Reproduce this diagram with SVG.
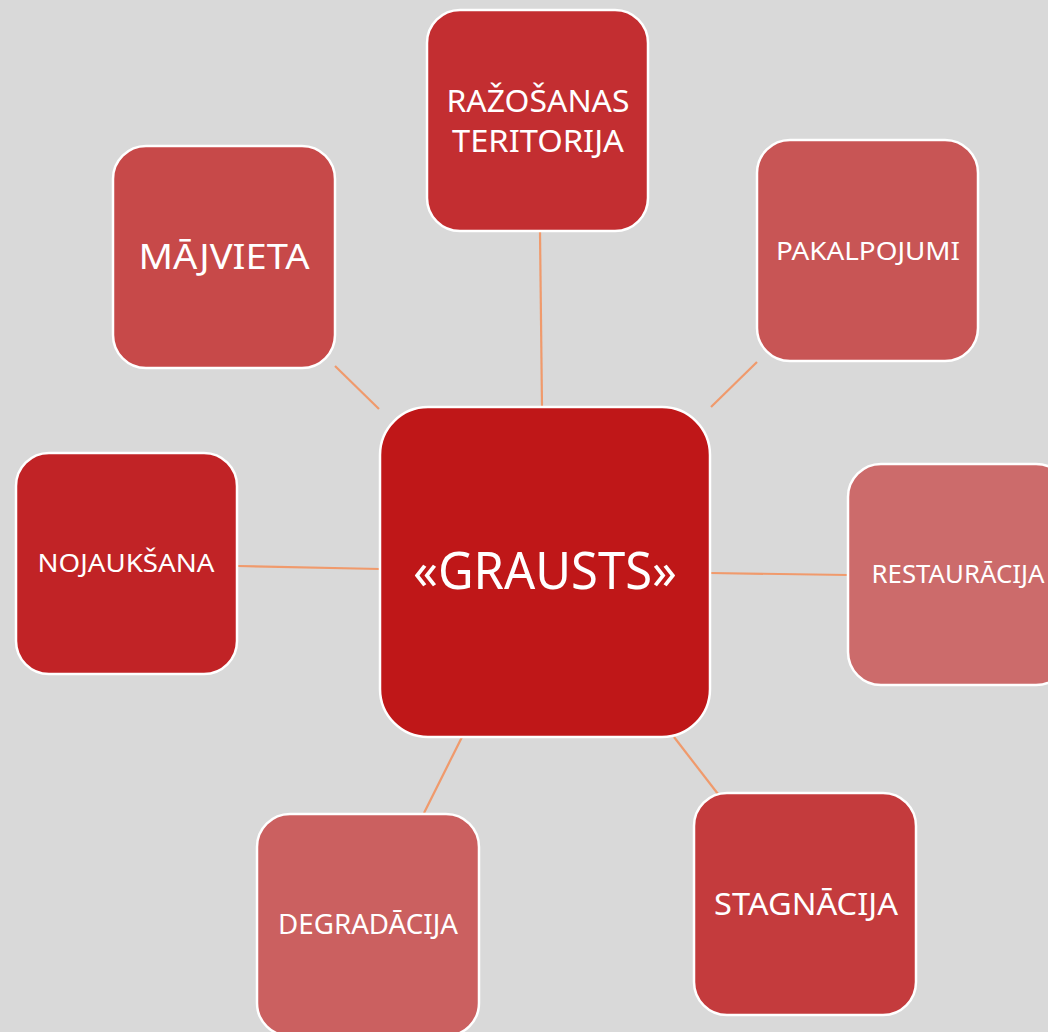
<svg xmlns="http://www.w3.org/2000/svg" width="1048" height="1032" viewBox="0 0 1048 1032">
<style>
.box{stroke:#ffffff;stroke-width:2.5}
.t{fill:#ffffff;font-family:"Noto Sans","Open Sans","DejaVu Sans",sans-serif;text-anchor:middle}
.c{stroke:#f09a6c;stroke-width:2.2;fill:none}
</style>
<rect width="1048" height="1032" fill="#d9d9d9"/>
<g id="connectors">
<line class="c" x1="540" y1="232" x2="542" y2="406"/>
<line class="c" x1="335" y1="366" x2="379" y2="409"/>
<line class="c" x1="757" y1="362" x2="711" y2="407"/>
<line class="c" x1="238" y1="566" x2="380" y2="569"/>
<line class="c" x1="710" y1="573" x2="848" y2="575"/>
<line class="c" x1="674" y1="737" x2="718" y2="794"/>
<line class="c" x1="462" y1="737" x2="424" y2="813"/>
</g>
<g id="center">
<rect class="box" x="380" y="407" width="330" height="330" rx="48" fill="#bf1718"/>
<text class="t" x="545" y="589" font-size="51" textLength="264" lengthAdjust="spacingAndGlyphs">«GRAUSTS»</text>
</g>
<g id="razosanas">
<rect class="box" x="427" y="10" width="221" height="221" rx="33" fill="#c32e31"/>
<text class="t" x="538" y="112" font-size="31" textLength="183" lengthAdjust="spacingAndGlyphs">RAŽOŠANAS</text>
<text class="t" x="538" y="152" font-size="31" textLength="172" lengthAdjust="spacingAndGlyphs">TERITORIJA</text>
</g>
<g id="majvieta">
<rect class="box" x="113" y="146" width="222" height="222" rx="33" fill="#c74949"/>
<text class="t" x="224" y="269" font-size="35" textLength="171" lengthAdjust="spacingAndGlyphs">MĀJVIETA</text>
</g>
<g id="pakalpojumi">
<rect class="box" x="757" y="140" width="221" height="221" rx="33" fill="#c85555"/>
<text class="t" x="868" y="260" font-size="25" textLength="184" lengthAdjust="spacingAndGlyphs">PAKALPOJUMI</text>
</g>
<g id="nojauksana">
<rect class="box" x="16" y="453" width="221" height="221" rx="33" fill="#c12326"/>
<text class="t" x="126" y="572" font-size="25" textLength="177" lengthAdjust="spacingAndGlyphs">NOJAUKŠANA</text>
</g>
<g id="restauracija">
<rect class="box" x="848" y="464" width="221" height="221" rx="33" fill="#cc6b6b"/>
<text class="t" x="958" y="583" font-size="25" textLength="173" lengthAdjust="spacingAndGlyphs">RESTAURĀCIJA</text>
</g>
<g id="stagnacija">
<rect class="box" x="694" y="793" width="222" height="222" rx="33" fill="#c43b3d"/>
<text class="t" x="806" y="915" font-size="31" textLength="184" lengthAdjust="spacingAndGlyphs">STAGNĀCIJA</text>
</g>
<g id="degradacija">
<rect class="box" x="257" y="814" width="222" height="222" rx="33" fill="#cb6060"/>
<text class="t" x="368" y="934" font-size="27" textLength="180" lengthAdjust="spacingAndGlyphs">DEGRADĀCIJA</text>
</g>
</svg>
